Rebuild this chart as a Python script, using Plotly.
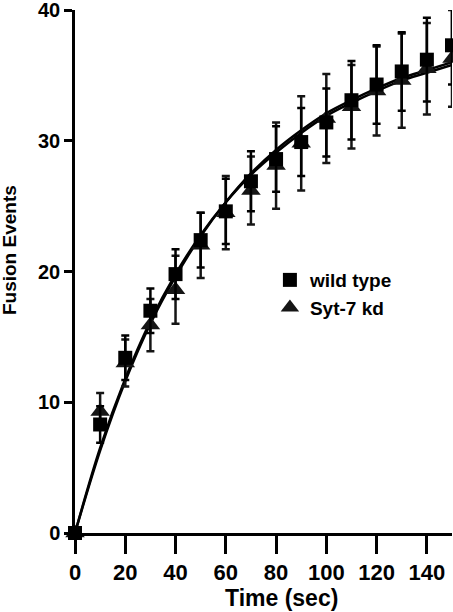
import plotly.graph_objects as go

time_s = [0, 10, 20, 30, 40, 50, 60, 70, 80, 90, 100, 110, 120, 130, 140, 150]
wt_mean = [0, 8.3, 13.4, 17.0, 19.8, 22.4, 24.6, 26.9, 28.6, 29.9, 31.4, 33.1, 34.3, 35.3, 36.2, 37.3]
wt_err = [0, 1.4, 1.7, 1.7, 1.9, 2.1, 2.5, 2.3, 2.5, 2.6, 2.6, 3.0, 3.0, 3.0, 3.2, 3.0]
kd_mean = [0, 9.3, 13.0, 15.9, 18.6, 22.0, 24.5, 26.2, 28.1, 29.8, 31.7, 32.6, 33.8, 34.6, 35.5, 36.3]
kd_err = [0, 1.4, 1.8, 2.0, 2.6, 2.5, 2.8, 2.6, 3.3, 3.6, 3.4, 3.2, 3.4, 3.6, 3.5, 3.7]

fit_x = [0, 10, 20, 30, 40, 50, 60, 70, 80, 90, 100, 110, 120, 130, 140, 150]
fit_wt = [0, 6.3, 11.6, 16.0, 19.6, 22.7, 25.3, 27.5, 29.3, 30.8, 32.1, 33.1, 34.0, 34.8, 35.4, 36.0]
fit_kd = [0, 6.5, 11.8, 16.2, 19.8, 22.8, 25.3, 27.4, 29.1, 30.6, 31.9, 32.9, 33.8, 34.6, 35.2, 35.8]

x_ticks = [0, 20, 40, 60, 80, 100, 120, 140]
y_ticks = [0, 10, 20, 30, 40]

FONT = "Liberation Sans, Arial, sans-serif"

fig = go.Figure()

fig.add_trace(go.Scatter(x=fit_x, y=fit_wt, mode="lines", line=dict(color="black", width=2.5, shape="spline"),
                         showlegend=False, hoverinfo="skip", cliponaxis=False))
fig.add_trace(go.Scatter(x=fit_x, y=fit_kd, mode="lines", line=dict(color="black", width=2.5, shape="spline"),
                         showlegend=False, hoverinfo="skip", cliponaxis=False))

fig.add_trace(go.Scatter(
    x=time_s, y=kd_mean, mode="markers", name="Syt-7 kd",
    marker=dict(symbol="triangle-up", size=17, color="#151515"),
    error_y=dict(type="data", array=kd_err, color="#151515", thickness=2.5, width=4),
    cliponaxis=False))
fig.add_trace(go.Scatter(
    x=time_s, y=wt_mean, mode="markers", name="wild type",
    marker=dict(symbol="square", size=14, color="black"),
    error_y=dict(type="data", array=wt_err, color="black", thickness=2.5, width=4),
    cliponaxis=False))

fig.update_layout(
    width=453, height=612,
    margin=dict(l=75, r=1, t=10, b=79, autoexpand=False),
    paper_bgcolor="white", plot_bgcolor="white",
    font=dict(family=FONT, color="black"),
    legend=dict(x=0.517, y=0.52, xanchor="left", yanchor="top", traceorder="reversed",
                font=dict(family=FONT, size=19, weight="bold", color="black"),
                bgcolor="rgba(0,0,0,0)", itemwidth=30, tracegroupgap=0),
    showlegend=True,
    annotations=[
        dict(text="Fusion Events", xref="paper", yref="paper", x=-0.175, y=0.541,
             xanchor="center", yanchor="middle", textangle=-90, showarrow=False,
             font=dict(family=FONT, size=19, weight="bold", color="black")),
        dict(text="Time (sec)", xref="paper", yref="paper", x=0.547, y=-0.124,
             xanchor="center", yanchor="middle", showarrow=False,
             font=dict(family=FONT, size=23, weight="bold", color="black")),
    ],
)
fig.update_xaxes(
    range=[0, 150], tickvals=x_ticks, ticktext=[str(v) for v in x_ticks], automargin=False,
    showline=True, linecolor="black", linewidth=2.5, showgrid=False, zeroline=False,
    ticks="outside", ticklen=18, tickwidth=2.5, tickcolor="black", ticklabeloverflow="allow",
    tickfont=dict(family=FONT, size=22, weight="bold", color="black"),
)
fig.update_yaxes(
    range=[0, 40], tickvals=y_ticks, ticktext=[str(v) for v in y_ticks], automargin=False,
    showline=True, linecolor="black", linewidth=2.5, showgrid=False, zeroline=False,
    ticks="outside", ticklen=8, tickwidth=2.5, tickcolor="black", ticklabeloverflow="allow",
    tickfont=dict(family=FONT, size=20, weight="bold", color="black"),
)

fig.write_html("out.html", config={"displayModeBar": False},
               post_script="document.body.style.margin='0';document.body.style.padding='0';")
